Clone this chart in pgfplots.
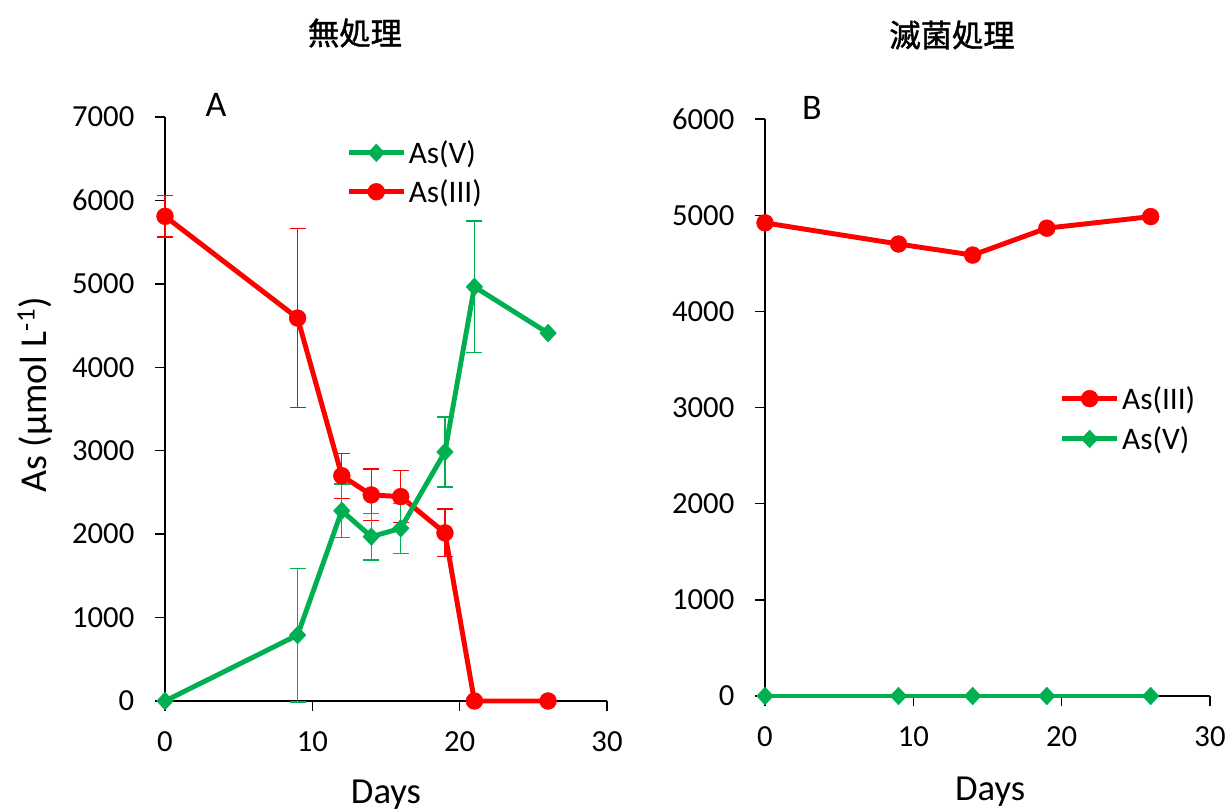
\documentclass[border=0pt]{standalone}
\usepackage{pgfplots}
\pgfplotsset{compat=1.18}
\usepackage{pgfplotstable}
\usepackage{fontspec}
\setmainfont{Carlito}
\newfontfamily\cjk[FakeBold=1.3]{Noto Sans CJK JP}
\definecolor{myred}{RGB}{255,0,0}
\definecolor{mygreen}{RGB}{0,176,80}

\pgfplotstableread{
x y e
0 5810 250
9 4590 1070
12 2700 270
14 2470 310
16 2450 310
19 2015 285
21 0 0
26 0 0
}\leftred
\pgfplotstableread{
x y e
0 0 0
9 790 800
12 2280 320
14 1970 280
16 2070 300
19 2985 420
21 4965 790
26 4410 0
}\leftgreen
\pgfplotstableread{
x y
0 4920
9 4700
14 4585
19 4865
26 4985
}\rightred
\pgfplotstableread{
x y
0 0
9 0
14 0
19 0
26 0
}\rightgreen

\pgfplotsset{
  panel/.style={
    scale only axis,
    axis lines*=left,
    axis line style={line width=1pt},
    tick align=outside,
    major tick length=7.5pt,
    tick style={line width=1pt, black},
    xmin=0, xmax=30, xtick={0,10,20,30},
    ymin=0,
    /pgf/number format/assume math mode=true,
    /pgf/number format/set thousands separator={},
    ticklabel style={font=\fontsize{23}{28}\selectfont},
    yticklabel style={xshift=-12pt},
    xticklabel style={yshift=-12pt},
    xlabel style={font=\fontsize{27.5}{33}\selectfont},
    ylabel style={font=\fontsize{28.5}{34}\selectfont},
    legend style={draw=none, fill=none, font=\fontsize{23.5}{28}\selectfont,
      row sep=6.5pt, inner sep=0pt, nodes={inner sep=2pt}},
    legend cell align=left,
    legend image code/.code={\draw[mark repeat=2,mark phase=2,##1] plot coordinates {(0pt,0pt) (20.5pt,0pt) (41pt,0pt)};},
    clip=false,
  },
  redline/.style={color=myred, line width=3.7pt, mark=*, mark size=6.3pt,
    mark options={solid, line width=0.4pt, fill=myred, draw=myred}},
  greenline/.style={color=mygreen, line width=3.7pt, mark=diamond*, mark size=6.6pt,
    mark options={solid, line width=0.4pt, fill=mygreen, draw=mygreen, xscale=1.25}},
  ebars/.style={error bars/.cd, y dir=both, y explicit,
    error bar style={line width=1pt, #1},
    error mark options={rotate=90, mark size=6pt, line width=1pt, #1}},
}

\begin{document}
\begin{tikzpicture}
\useasboundingbox (0pt,0pt) rectangle (921pt,-609pt);

\begin{axis}[panel,
  at={(123.75pt,-525.75pt)}, anchor=south west,
  width=331.5pt, height=438pt,
  ymax=7000, ytick={0,1000,...,7000},
  xlabel={Days}, ylabel={As (µmol L\textsuperscript{-1})},
  xlabel style={at={(axis description cs:0.5,-0.16)}, anchor=center},
  ylabel style={at={(axis description cs:-0.294,0.524)}, anchor=center, rotate=0},
  legend style={at={(axis description cs:0.41,0.965)}, anchor=north west},
  reverse legend,
]
\addplot[redline, ebars=myred] table[x=x, y=y, y error=e] {\leftred};
\addlegendentry{As(III)}
\addplot[greenline, ebars=mygreen] table[x=x, y=y, y error=e] {\leftgreen};
\addlegendentry{As(V)}
\end{axis}

\begin{axis}[panel,
  at={(573.75pt,-522pt)}, anchor=south west,
  width=333.75pt, height=432.75pt,
  ymax=6000, ytick={0,1000,...,6000},
  xlabel={Days},
  xlabel style={at={(axis description cs:0.506,-0.165)}, anchor=center},
  legend style={at={(axis description cs:0.662,0.542)}, anchor=north west, row sep=7.5pt},
]
\addplot[redline] table[x=x, y=y] {\rightred};
\addlegendentry{As(III)}
\addplot[greenline] table[x=x, y=y] {\rightgreen};
\addlegendentry{As(V)}
\end{axis}

\node[font=\cjk\fontsize{23.5}{28}\selectfont] at (266.25pt,-24.75pt) {無処理};
\node[font=\cjk\fontsize{23.5}{28}\selectfont] at (714pt,-26.25pt) {滅菌処理};
\node[font=\fontsize{27}{32}\selectfont] at (162pt,-78.75pt) {A};
\node[font=\fontsize{27}{32}\selectfont] at (609pt,-81pt) {B};
\end{tikzpicture}
\end{document}
